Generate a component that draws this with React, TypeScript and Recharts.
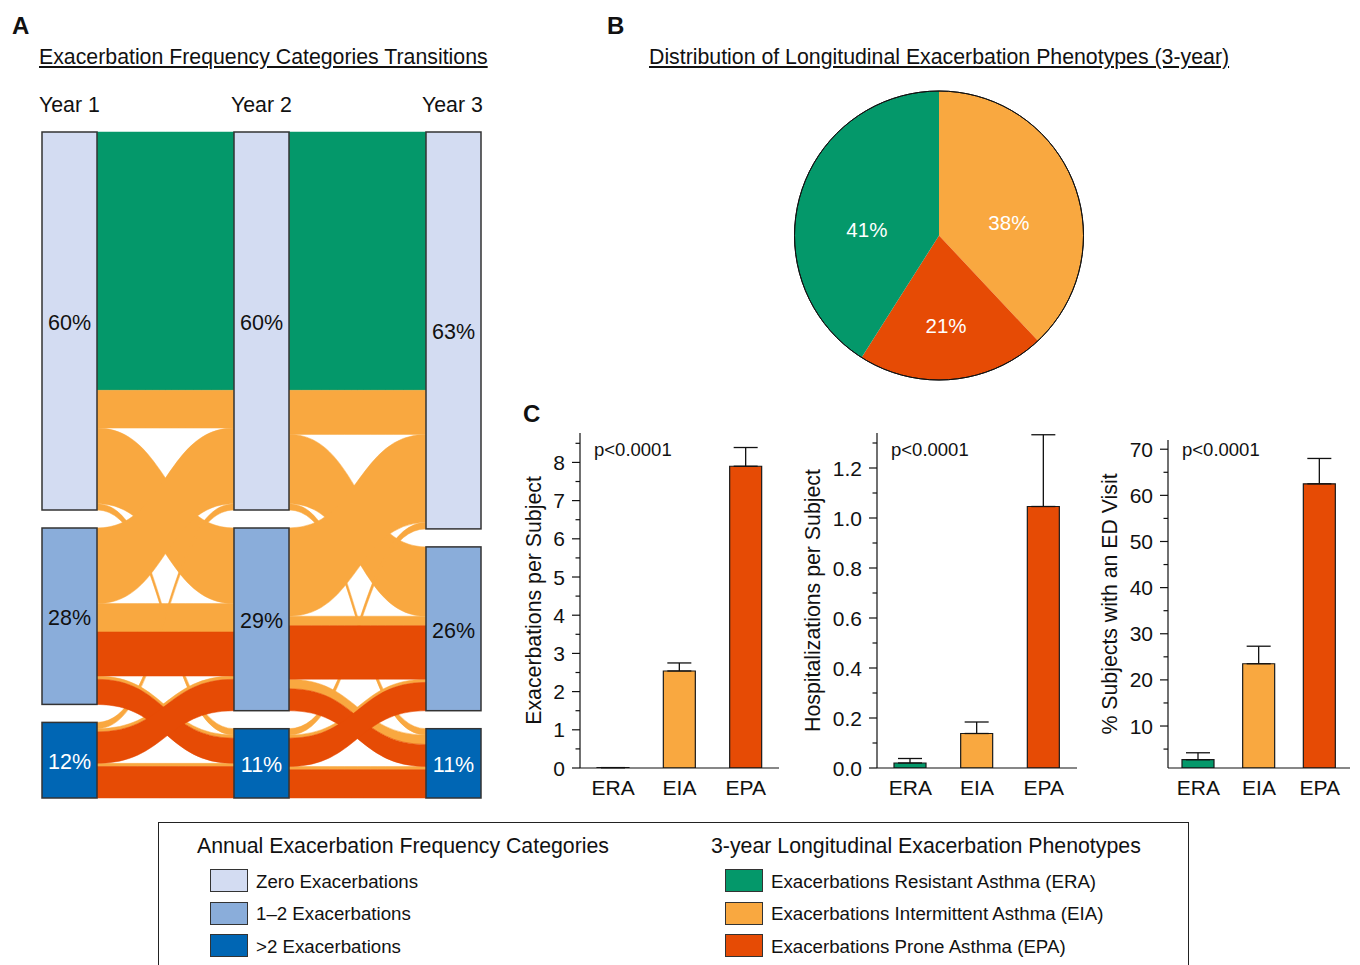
import React from 'react';
import { Sankey, PieChart, Pie, Cell, BarChart, Bar, XAxis, YAxis, ErrorBar } from 'recharts';

const FONT = '"Liberation Sans", Arial, Helvetica, sans-serif';

// phenotype + frequency category colours
const phenoColors: Record<string, string> = { ERA: '#04986A', EIA: '#F9A840', EPA: '#E64B05' };
const freqColors = ['#D3DCF2', '#8AADDA', '#0066B4'];
const freqLabels = ['Zero Exacerbations', '1–2 Exacerbations', '>2 Exacerbations'];
const phenoLegend = [
  ['ERA', 'Exacerbations Resistant Asthma (ERA)'],
  ['EIA', 'Exacerbations Intermittent Asthma (EIA)'],
  ['EPA', 'Exacerbations Prone Asthma (EPA)'],
];
const years = ['Year 1', 'Year 2', 'Year 3'];

// transitions: [from category, to category, phenotype, % of subjects]
// category 0 = zero, 1 = 1–2, 2 = >2
const flowsY1toY2: [number, number, string, number][] = [
  [0, 0, 'ERA', 41],
  [0, 0, 'EIA', 6],
  [0, 1, 'EIA', 12],
  [0, 2, 'EIA', 1],
  [1, 0, 'EIA', 12],
  [1, 1, 'EIA', 4.5],
  [1, 2, 'EIA', 0.5],
  [2, 0, 'EIA', 1],
  [2, 1, 'EIA', 0.5],
  [2, 2, 'EIA', 0.5],
  [1, 1, 'EPA', 7],
  [1, 2, 'EPA', 4],
  [2, 1, 'EPA', 5],
  [2, 2, 'EPA', 5],
];
const flowsY2toY3: [number, number, string, number][] = [
  [0, 0, 'ERA', 41],
  [0, 0, 'EIA', 7],
  [0, 1, 'EIA', 11],
  [0, 2, 'EIA', 1],
  [1, 0, 'EIA', 14],
  [1, 1, 'EIA', 1.5],
  [1, 2, 'EIA', 1.5],
  [2, 0, 'EIA', 1],
  [2, 1, 'EIA', 0.5],
  [2, 2, 'EIA', 0.5],
  [1, 1, 'EPA', 8.5],
  [1, 2, 'EPA', 3.5],
  [2, 1, 'EPA', 4.5],
  [2, 2, 'EPA', 4.5],
];

// 3-year phenotype distribution (clockwise from 12 o'clock)
const pieNames = ['EIA', 'EPA', 'ERA'];
const pieShares = [38, 21, 41];

// outcomes by phenotype, mean and SEM
const groups = ['ERA', 'EIA', 'EPA'];
const exacMean = [0.01, 2.54, 7.9];
const exacSem = [0, 0.21, 0.49];
const hospMean = [0.02, 0.138, 1.046];
const hospSem = [0.018, 0.046, 0.287];
const edMean = [2.7, 23.5, 62.5];
const edSem = [1.5, 3.8, 5.5];

const exacTicks = [0, 0.5, 1, 1.5, 2, 2.5, 3, 3.5, 4, 4.5, 5, 5.5, 6, 6.5, 7, 7.5, 8, 8.5];
const exacMajor = [0, 1, 2, 3, 4, 5, 6, 7, 8];
const hospTicks = [0, 0.1, 0.2, 0.3, 0.4, 0.5, 0.6, 0.7, 0.8, 0.9, 1.0, 1.1, 1.2, 1.3];
const hospMajor = [0, 0.2, 0.4, 0.6, 0.8, 1.0, 1.2];
const edTicks = [5, 10, 15, 20, 25, 30, 35, 40, 45, 50, 55, 60, 65, 70];
const edMajor = [10, 20, 30, 40, 50, 60, 70];

const sankeyNodes = years.flatMap((y, yi) =>
  freqLabels.map((f, ci) => ({ name: `${y} ${f}`, cat: ci, year: yi }))
);
const sankeyLinks = [
  ...flowsY1toY2.map(([a, b, ph, v]) => ({ source: a, target: 3 + b, value: v, ph })),
  ...flowsY2toY3.map(([a, b, ph, v]) => ({ source: 3 + a, target: 6 + b, value: v, ph })),
];

const TITLE = 21.3;
const TICK_FONT = 21;

// y is the visual centre of the text line
const Txt = ({ x, y, size, bold, underline, color, children }: any) => (
  <div
    style={{
      position: 'absolute',
      left: x,
      top: y - size / 2 + 1.5,
      fontSize: size,
      lineHeight: `${size}px`,
      whiteSpace: 'nowrap',
      fontWeight: bold ? 700 : 400,
      textDecoration: underline ? 'underline' : 'none',
      color: color || '#111',
    }}
  >
    {children}
  </div>
);

const FlowNode = (props: any) => {
  const { x, y, width, height, payload } = props;
  const cat = payload.cat;
  return (
    <g>
      <rect x={x} y={y} width={width} height={height} fill={freqColors[cat]} stroke="#333" strokeWidth={1.5} />
      <text
        x={x + width / 2}
        y={y + height / 2 + 2}
        textAnchor="middle"
        dominantBaseline="central"
        fontSize={21.5}
        fill={cat === 2 ? '#fff' : '#111'}
      >
        {Math.round(payload.value)}%
      </text>
    </g>
  );
};

// filled ribbon so the band keeps its vertical thickness
const FlowLink = (props: any) => {
  const { sourceX, targetX, sourceY, targetY, sourceControlX, targetControlX, linkWidth, payload } = props;
  const h = linkWidth / 2;
  const c = phenoColors[payload.ph] || '#999';
  const d =
    `M${sourceX},${sourceY - h} C${sourceControlX},${sourceY - h} ${targetControlX},${targetY - h} ${targetX},${targetY - h}` +
    ` L${targetX},${targetY + h} C${targetControlX},${targetY + h} ${sourceControlX},${sourceY + h} ${sourceX},${sourceY + h} Z`;
  return <path d={d} fill={c} stroke={c} strokeWidth={0.5} />;
};

const PIE_CX = 159;
const PIE_CY = 155.5;
const PIE_R = 144.5;

const renderPieLabel = (p: any) => {
  const rad = Math.PI / 180;
  const r = p.outerRadius * 0.52;
  const x = p.cx + r * Math.cos(-p.midAngle * rad);
  const y = p.cy + r * Math.sin(-p.midAngle * rad) + 15;
  return (
    <text x={x} y={y} textAnchor="middle" dominantBaseline="central" fontSize={20.5} fill="#fff">
      {Math.round(p.percent * 100)}%
    </text>
  );
};

type PanelProps = {
  left: number;
  axisX: number;
  right: number;
  plotTop: number;
  domain: [number, number];
  ticks: number[];
  major: number[];
  fmt: (v: number) => string;
  mean: number[];
  sem: number[];
  title: string;
};

const BarPanel = ({ left, axisX, right, plotTop, domain, ticks, major, fmt, mean, sem, title }: PanelProps) => {
  const data = groups.map((g, i) => ({ group: g, mean: mean[i], err: [0, sem[i]] }));
  const width = right - left + 10;

  const yTick = (props: any) => {
    const { x, y, payload } = props;
    const isMajor = major.some((m) => Math.abs(m - payload.value) < 1e-9);
    return (
      <g>
        <line x1={x - (isMajor ? 8 : 4.5)} x2={x} y1={y} y2={y} stroke="#111" strokeWidth={1.2} />
        {isMajor && (
          <text x={x - 15} y={y} textAnchor="end" dominantBaseline="central" fontSize={TICK_FONT} fill="#111">
            {fmt(payload.value)}
          </text>
        )}
      </g>
    );
  };

  const xTick = (props: any) => (
    <text x={props.x} y={props.y + 19} textAnchor="middle" dominantBaseline="central" fontSize={TICK_FONT} fill="#111">
      {props.payload.value}
    </text>
  );

  const axisTitle = (props: any) => {
    const vb = props.viewBox || { x: 0, y: 0, width: 0, height: 0 };
    const cx = vb.x + 30;
    const cy = vb.y + vb.height / 2;
    return (
      <g>
        <text
          x={cx}
          y={cy}
          transform={`rotate(-90 ${cx} ${cy})`}
          textAnchor="middle"
          dominantBaseline="central"
          fontSize={TITLE}
          fill="#111"
        >
          {title}
        </text>
        <text x={vb.x + vb.width + 14} y={56} fontSize={18.5} fill="#111">
          p&lt;0.0001
        </text>
      </g>
    );
  };

  return (
    <div style={{ position: 'absolute', left, top: 400 }}>
      <BarChart
        width={width}
        height={420}
        data={data}
        margin={{ top: plotTop - 400, right: 10, bottom: 22, left: 0 }}
        barCategoryGap={0}
      >
        <XAxis
          dataKey="group"
          tickLine={false}
          tickSize={0}
          tickMargin={0}
          height={30}
          axisLine={{ stroke: '#111', strokeWidth: 1.2 }}
          tick={xTick}
        />
        <YAxis
          type="number"
          domain={domain}
          allowDataOverflow
          ticks={ticks}
          interval={0}
          width={axisX - left}
          tickLine={false}
          tickSize={0}
          tickMargin={0}
          axisLine={{ stroke: '#111', strokeWidth: 1.2 }}
          tick={yTick}
          label={axisTitle}
        />
        <Bar dataKey="mean" barSize={32} stroke="#1a1a1a" strokeWidth={1.2} isAnimationActive={false}>
          {data.map((d) => (
            <Cell key={d.group} fill={phenoColors[d.group]} />
          ))}
          <ErrorBar dataKey="err" direction="y" width={12} stroke="#111" strokeWidth={1.3} />
        </Bar>
      </BarChart>
    </div>
  );
};

export default function App() {
  const pieData = pieNames.map((n, i) => ({ name: n, value: pieShares[i] }));
  return (
    <div
      style={{
        position: 'absolute',
        left: 0,
        top: 0,
        width: 1360,
        height: 965,
        overflow: 'hidden',
        background: '#fff',
        fontFamily: FONT,
        color: '#111',
      }}
    >
      {/* panel A: transitions between annual frequency categories */}
      <Txt x={12} y={24} size={24} bold>A</Txt>
      <Txt x={39} y={56} size={TITLE} underline>Exacerbation Frequency Categories Transitions</Txt>
      <Txt x={39} y={104} size={TITLE}>{years[0]}</Txt>
      <Txt x={231} y={104} size={TITLE}>{years[1]}</Txt>
      <Txt x={422} y={104} size={TITLE}>{years[2]}</Txt>
      <div style={{ position: 'absolute', left: 0, top: 0 }}>
        <Sankey
          width={500}
          height={820}
          data={{ nodes: sankeyNodes, links: sankeyLinks }}
          node={FlowNode}
          link={FlowLink}
          nodeWidth={55}
          nodePadding={18}
          iterations={0}
          sort={false}
          margin={{ top: 132, left: 42, right: 19, bottom: 22 }}
        />
      </div>

      {/* panel B: phenotype distribution */}
      <Txt x={607} y={24} size={24} bold>B</Txt>
      <Txt x={649} y={56} size={TITLE} underline>Distribution of Longitudinal Exacerbation Phenotypes (3-year)</Txt>
      <div style={{ position: 'absolute', left: 780, top: 80 }}>
        <PieChart width={320} height={320} margin={{ top: 0, right: 0, bottom: 0, left: 0 }}>
          <Pie
            data={pieData}
            dataKey="value"
            cx={PIE_CX}
            cy={PIE_CY}
            outerRadius={PIE_R}
            startAngle={90}
            endAngle={-270}
            stroke="none"
            labelLine={false}
            label={renderPieLabel}
            isAnimationActive={false}
          >
            {pieData.map((d) => (
              <Cell key={d.name} fill={phenoColors[d.name]} />
            ))}
          </Pie>
          <Pie
            data={[{ name: 'outline', value: 1 }]}
            dataKey="value"
            cx={PIE_CX}
            cy={PIE_CY}
            innerRadius={PIE_R}
            outerRadius={PIE_R}
            fill="none"
            stroke="#111"
            strokeWidth={1}
            isAnimationActive={false}
          />
        </PieChart>
      </div>

      {/* panel C: outcomes by phenotype */}
      <Txt x={523} y={412} size={24} bold>C</Txt>
      <BarPanel
        left={504}
        axisX={580}
        right={779}
        plotTop={433}
        domain={[0, 8.77]}
        ticks={exacTicks}
        major={exacMajor}
        fmt={(v) => String(v)}
        mean={exacMean}
        sem={exacSem}
        title="Exacerbations per Subject"
      />
      <BarPanel
        left={783}
        axisX={877}
        right={1077}
        plotTop={433}
        domain={[0, 1.34]}
        ticks={hospTicks}
        major={hospMajor}
        fmt={(v) => v.toFixed(1)}
        mean={hospMean}
        sem={hospSem}
        title="Hospitalizations per Subject"
      />
      <BarPanel
        left={1080}
        axisX={1168}
        right={1350}
        plotTop={440}
        domain={[0.9, 72]}
        ticks={edTicks}
        major={edMajor}
        fmt={(v) => String(v)}
        mean={edMean}
        sem={edSem}
        title="% Subjects with an ED Visit"
      />

      {/* shared legend */}
      <div
        style={{
          position: 'absolute',
          left: 158,
          top: 822,
          width: 1031,
          height: 170,
          border: '1.3px solid #222',
          boxSizing: 'border-box',
        }}
      />
      <Txt x={197} y={845} size={TITLE}>Annual Exacerbation Frequency Categories</Txt>
      <Txt x={711} y={845} size={TITLE}>3-year Longitudinal Exacerbation Phenotypes</Txt>
      {freqLabels.map((lab, i) => (
        <React.Fragment key={lab}>
          <div
            style={{
              position: 'absolute',
              left: 210,
              top: 869 + i * 32.5,
              width: 38,
              height: 23,
              background: freqColors[i],
              border: '1.5px solid #333',
              boxSizing: 'border-box',
            }}
          />
          <Txt x={256} y={880.5 + i * 32.5} size={18.7}>{lab}</Txt>
        </React.Fragment>
      ))}
      {phenoLegend.map(([key, lab], i) => (
        <React.Fragment key={key}>
          <div
            style={{
              position: 'absolute',
              left: 725,
              top: 869 + i * 32.5,
              width: 38,
              height: 23,
              background: phenoColors[key],
              border: '1.5px solid #333',
              boxSizing: 'border-box',
            }}
          />
          <Txt x={771} y={880.5 + i * 32.5} size={18.7}>{lab}</Txt>
        </React.Fragment>
      ))}
    </div>
  );
}
